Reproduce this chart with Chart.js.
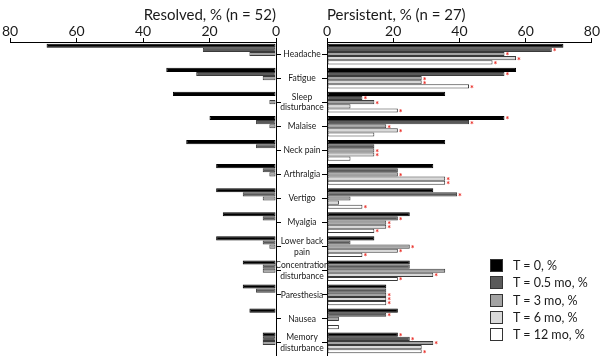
<!DOCTYPE html>
<html>
<head>
<meta charset="utf-8">
<script src="https://cdn.jsdelivr.net/npm/chart.js@4"></script>
<style>
  body { margin: 0; background: #fff; }
  #wrap { position: relative; width: 600px; height: 363px; overflow: hidden; font-family: Lato, sans-serif; }
  #left { position: absolute; left: 0; top: 0; width: 282px; height: 363px; }
  #right { position: absolute; left: 268px; top: 0; width: 332px; height: 363px; }
  #legend { position: absolute; left: 490px; top: 257px; }
  .item { height: 17.3px; display: flex; align-items: center; font-size: 12.5px; color: #1a1a1a; }
  .box { width: 11px; height: 11px; border: 1px solid #333; margin-right: 10px; }
</style>
</head>
<body>
<div id="wrap">
  <div id="left"><canvas id="resolved-chart"></canvas></div>
  <div id="right"><canvas id="persistent-chart"></canvas></div>
  <div id="legend"></div>
</div>
<script>
const categories = [
  "Headache", "Fatigue", ["Sleep", "disturbance"], "Malaise", "Neck pain",
  "Arthralgia", "Vertigo", "Myalgia", ["Lower back", "pain"],
  ["Concentration", "disturbance"], "Paresthesia", "Nausea", ["Memory", "disturbance"]
];
const seriesLabels = ["T = 0, %", "T = 0.5 mo, %", "T = 3 mo, %", "T = 6 mo, %", "T = 12 mo, %"];
const seriesColors = ["#000000", "#5a5a5a", "#a3a3a3", "#d9d9d9", "#ffffff"];
const xTicks = [0, 20, 40, 60, 80];

// Resolved group (n = 52)
const resolvedT0 = [69, 33, 31, 20, 27, 18, 18, 16, 18, 10, 10, 8, 4];
const resolvedT05 = [22, 24, 0, 6, 6, 4, 10, 4, 4, 4, 6, 0, 4];
const resolvedT3 = [8, 4, 2, 2, 0, 2, 4, 0, 2, 4, 0, 0, 4];
const resolvedT6 = [0, 0, 0, 0, 0, 0, 0, 0, 0, 0, 0, 0, 0];
const resolvedT12 = [0, 0, 0, 0, 0, 0, 0, 0, 0, 0, 0, 0, 0];

// Persistent group (n = 27)
const persistT0 = [71.4, 57.1, 35.7, 53.6, 35.7, 32.1, 32.1, 25.0, 14.3, 25.0, 17.9, 21.4, 21.4];
const persistT05 = [67.9, 53.6, 10.7, 42.9, 14.3, 21.4, 39.3, 21.4, 7.1, 25.0, 17.9, 17.9, 25.0];
const persistT3 = [53.6, 28.6, 14.3, 17.9, 14.3, 21.4, 7.1, 17.9, 25.0, 35.7, 17.9, 3.6, 32.1];
const persistT6 = [57.1, 28.6, 7.1, 21.4, 14.3, 35.7, 3.6, 17.9, 21.4, 32.1, 17.9, 0, 28.6];
const persistT12 = [50.0, 42.9, 21.4, 14.3, 7.1, 35.7, 10.7, 14.3, 10.7, 21.4, 17.9, 3.6, 28.6];

// significance markers (red asterisks) on the persistent side
const starT0 = [0, 0, 0, 1, 0, 0, 0, 0, 0, 0, 0, 0, 1];
const starT05 = [1, 1, 1, 1, 0, 0, 1, 1, 0, 0, 0, 1, 1];
const starT3 = [1, 1, 1, 1, 1, 1, 0, 1, 1, 0, 1, 0, 1];
const starT6 = [1, 1, 0, 1, 1, 1, 0, 1, 1, 1, 1, 0, 0];
const starT12 = [1, 1, 1, 0, 0, 1, 1, 1, 1, 1, 1, 0, 1];

const resolvedData = [resolvedT0, resolvedT05, resolvedT3, resolvedT6, resolvedT12];
const persistData = [persistT0, persistT05, persistT3, persistT6, persistT12];
const starData = [starT0, starT05, starT3, starT6, starT12];

const textColor = "#1a1a1a";
const labelSize = 8.5;
const yAxisWidth = 59;
const labelCentre = 34; // centre of category labels, in right-canvas px

function makeDatasets(values, stars) {
  return values.map((d, i) => ({
    label: seriesLabels[i],
    data: d,
    stars: stars ? stars[i] : null,
    backgroundColor: seriesColors[i],
    borderColor: i === 0 ? "#000" : "#3a3a3a",
    borderWidth: 1,
    borderSkipped: false,
    categoryPercentage: 0.86,
    barPercentage: 1,
  }));
}

// red asterisk after flagged bars
const starPlugin = {
  id: "stars",
  afterDatasetsDraw(chart) {
    const ctx = chart.ctx;
    ctx.save();
    ctx.fillStyle = "#e8231c";
    ctx.font = "bold 9px Lato";
    ctx.textBaseline = "middle";
    chart.data.datasets.forEach((ds, i) => {
      if (!ds.stars) return;
      chart.getDatasetMeta(i).data.forEach((bar, j) => {
        if (ds.stars[j]) ctx.fillText("*", bar.x + 1, bar.y + 2.5);
      });
    });
    ctx.restore();
  },
};

// mirrored labels are not clipped to the axis box; pull them back left of the axis
const meas = document.createElement("canvas").getContext("2d");
meas.font = labelSize + "px Lato";
const widest = Math.max(...categories.flat().map((t) => meas.measureText(t).width));
const labelPad = labelCentre - yAxisWidth - widest / 2;

function xScale(reverse) {
  return {
    type: "linear",
    position: "top",
    min: 0,
    max: 80,
    reverse: reverse,
    afterBuildTicks: (s) => { s.ticks = xTicks.map((v) => ({ value: v })); },
    afterFit: (s) => { s.height = 18; },
    ticks: { color: textColor, padding: 0, font: { family: "Lato", size: 14, lineHeight: 1 } },
    grid: { drawOnChartArea: false, tickLength: 4, color: "#000" },
    border: { color: "#000", width: 1 },
  };
}

function titleOpts(text, align) {
  return {
    display: true,
    text: text,
    align: align,
    fullSize: false,
    color: textColor,
    padding: 0,
    font: { family: "Lato", size: 15, weight: "normal", lineHeight: 1.2 },
  };
}

var resolvedChart = new Chart(document.getElementById("resolved-chart"), {
  type: "bar",
  data: { labels: categories, datasets: makeDatasets(resolvedData, null) },
  options: {
    indexAxis: "y",
    responsive: true,
    maintainAspectRatio: false,
    animation: false,
    layout: { padding: { left: 10, right: 0, top: 6, bottom: 8 } },
    scales: {
      x: xScale(true),
      y: {
        position: "right",
        afterFit: (s) => { s.width = 6; },
        ticks: { display: false, autoSkip: false },
        grid: { drawOnChartArea: false, offset: false, tickLength: 5, color: "#000" },
        border: { color: "#000", width: 1 },
      },
    },
    plugins: {
      legend: { display: false },
      tooltip: { enabled: false },
      title: titleOpts("Resolved, % (n = 52)", "end"),
    },
  },
});

var persistentChart = new Chart(document.getElementById("persistent-chart"), {
  type: "bar",
  data: { labels: categories, datasets: makeDatasets(persistData, starData) },
  options: {
    indexAxis: "y",
    responsive: true,
    maintainAspectRatio: false,
    animation: false,
    layout: { padding: { left: 0, right: 7, top: 6, bottom: 8 } },
    scales: {
      x: xScale(false),
      y: {
        position: "left",
        afterFit: (s) => { s.width = yAxisWidth; },
        ticks: {
          color: textColor,
          autoSkip: false,
          mirror: true,
          crossAlign: "center",
          padding: labelPad,
          font: { family: "Lato", size: labelSize, lineHeight: 1.25 },
        },
        grid: { drawOnChartArea: false, offset: false, tickLength: 5, color: "#000" },
        border: { color: "#000", width: 1 },
      },
    },
    plugins: {
      legend: { display: false },
      tooltip: { enabled: false },
      title: titleOpts("Persistent, % (n = 27)", "start"),
    },
  },
  plugins: [starPlugin],
});

// Legend
const legend = document.getElementById("legend");
seriesLabels.forEach((label, i) => {
  const row = document.createElement("div");
  row.className = "item";
  row.innerHTML = '<span class="box" style="background:' + seriesColors[i] + '"></span>' + label;
  legend.appendChild(row);
});
</script>
</body>
</html>
